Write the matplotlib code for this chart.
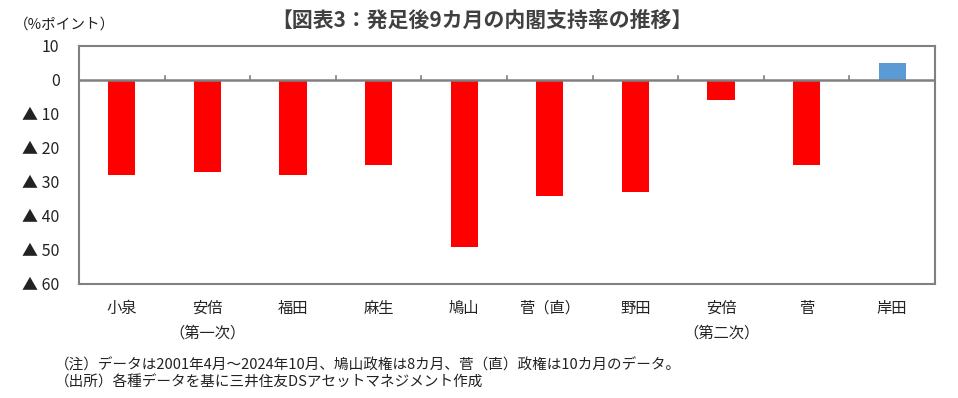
import matplotlib
matplotlib.use("Agg")
import matplotlib.pyplot as plt
import numpy as np

plt.rcParams['font.family'] = ['Noto Sans CJK JP', 'DejaVu Sans']

categories = ["小泉", "安倍\n（第一次）", "福田", "麻生", "鳩山", "菅（直）", "野田", "安倍\n（第二次）", "菅", "岸田"]
values = [-28, -27, -28, -25, -49, -34, -33, -6, -25, 5]
yticks = [10, 0, -10, -20, -30, -40, -50, -60]
yticklabels = ["10", "0", "▲ 10", "▲ 20", "▲ 30", "▲ 40", "▲ 50", "▲ 60"]

fig = plt.figure(figsize=(9.58, 3.98), dpi=100)
L, R, T, B = 79, 935, 46, 284
ax = fig.add_axes([L/958, 1-B/398, (R-L)/958, (B-T)/398])

x = np.arange(len(categories))
colors = ["#FF0000" if v < 0 else "#5B9BD5" for v in values]
ax.bar(x, values, width=0.32, color=colors, zorder=2)

ax.set_xlim(-0.5, len(categories) - 0.5)
ax.set_ylim(-60, 10)
ax.set_yticks(yticks)
ax.set_yticklabels(yticklabels, fontsize=11.5, color="#222222")
ax.tick_params(axis='y', length=0, pad=14)

for s in ax.spines.values():
    s.set_color("#808080")
    s.set_linewidth(1.5)

ax.axhline(0, color="#808080", lw=1.8, zorder=3)
for b in np.arange(0.5, len(categories) - 0.5, 1.0):
    ax.plot([b, b], [0, 1.3], color="#808080", lw=1.2, zorder=3)

ax.set_xticks([])
for xi, lab in zip(x, categories):
    lines = lab.split("\n")
    xf = (L + (xi + 0.5) * (R - L) / len(categories)) / 958
    fig.text(xf, 1 - 308/398, lines[0], ha="center", va="center", fontsize=11, color="#222222")
    if len(lines) > 1:
        fig.text(xf, 1 - 333/398, lines[1], ha="center", va="center", fontsize=11, color="#222222")

fig.text(482/958, 1 - 20/398, "【図表3：発足後9カ月の内閣支持率の推移】", ha="center", va="center",
         fontsize=15, fontweight="bold", color="#404040")
fig.text(14/958, 1 - 25/398, "（%ポイント）", ha="left", va="center", fontsize=10.5, color="#222222")
fig.text(55/958, 1 - 365/398, "（注）データは2001年4月～2024年10月、鳩山政権は8カ月、菅（直）政権は10カ月のデータ。",
         ha="left", va="center", fontsize=10.5, color="#222222")
fig.text(55/958, 1 - 382/398, "（出所）各種データを基に三井住友DSアセットマネジメント作成",
         ha="left", va="center", fontsize=10.5, color="#222222")

fig.savefig("out.png", dpi=100)
